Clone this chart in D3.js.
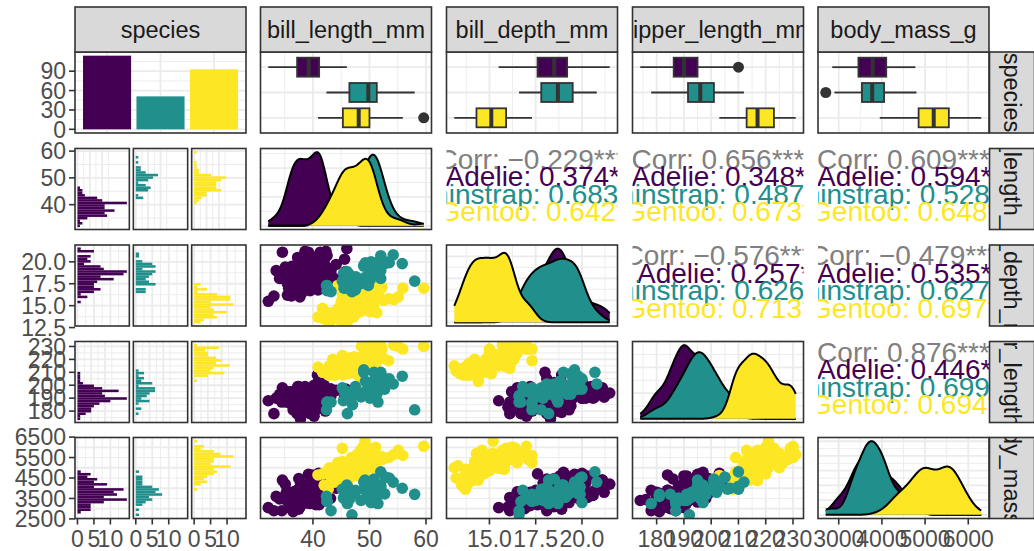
<!DOCTYPE html>
<html>
<head>
<meta charset="utf-8">
<script src="https://cdn.jsdelivr.net/npm/d3@7"></script>
<style>
  body { margin: 0; background: #fff; }
  svg text { font-family: "Liberation Sans", Arial, Helvetica, sans-serif; }
</style>
</head>
<body>
<div id="chart"></div>
<script>
// penguins, 75% training split: [bill_length_mm, bill_depth_mm, flipper_length_mm, body_mass_g]
var species = ["Adelie", "Chinstrap", "Gentoo"];
var speciesColors = ["#440154", "#21908C", "#FDE725"];
var varNames = ["species", "bill_length_mm", "bill_depth_mm", "flipper_length_mm", "body_mass_g"];

var adelie = [
  [39.1,18.7,181,3750],[39.5,17.4,186,3800],[36.7,19.3,193,3450],[39.3,20.6,190,3650],[39.2,19.6,195,4675],
  [34.1,18.1,193,3475],[42.0,20.2,190,4250],[37.8,17.3,180,3700],[41.1,17.6,182,3200],[38.6,21.2,191,3800],
  [34.6,21.1,198,4400],[38.7,19.0,195,3450],[42.5,20.7,197,4500],[46.0,21.5,194,4200],[37.8,18.3,174,3400],
  [37.7,18.7,180,3600],[35.9,19.2,189,3800],[38.8,17.2,180,3800],[35.3,18.9,187,3800],[40.5,17.9,187,3200],
  [37.0,16.9,185,3000],[39.5,16.7,178,3250],[37.2,18.1,178,3900],[40.9,18.9,184,3900],[36.4,17.0,195,3325],
  [39.2,21.1,196,4150],[42.2,18.5,180,3550],[37.6,19.3,181,3300],[39.8,19.1,184,4650],[40.8,18.4,195,3900],
  [36.0,18.5,186,3100],[44.1,19.7,196,4400],[39.6,18.8,190,4600],[41.1,19.0,182,3425],[37.5,18.9,179,2975],
  [42.3,21.2,191,4150],[39.6,17.7,186,3500],[35.9,16.6,190,3050],[42.0,19.5,200,4050],[34.5,18.1,187,2900],
  [41.4,18.6,191,3700],[40.6,18.8,193,3800],[36.5,16.6,181,2850],[37.6,19.1,194,3750],[41.3,21.1,195,4400],
  [37.6,17.0,185,3600],[41.1,18.2,192,4050],[41.6,18.0,192,3950],[35.5,16.2,195,3350],[41.1,19.1,188,4100],
  [41.8,19.4,198,4450],[33.5,19.0,190,3600],[39.7,18.4,190,3900],[45.8,18.9,197,4150],[35.5,17.5,190,3700],
  [42.8,18.5,195,4250],[37.2,19.4,184,3900],[36.2,16.1,187,3550],[42.1,19.1,195,4000],[42.9,17.6,196,4700],
  [36.7,18.8,187,3800],[35.1,19.4,193,4200],[41.3,20.3,194,3550],[36.3,19.5,190,3800],[36.9,18.6,189,3500],
  [38.9,18.8,190,3600],[40.9,16.8,191,3700],[41.1,18.1,205,4300],[39.6,18.1,186,4450],[36.2,17.3,187,3300],
  [40.8,18.9,208,4300],[40.3,18.5,196,4350],[33.1,16.1,178,2900],[43.2,18.5,192,4100],[41.0,20.0,203,4725],
  [37.7,16.0,183,3075],[37.8,20.0,190,4250],[39.7,18.9,184,3550],[38.6,17.2,199,3750],[38.2,20.0,190,3900],
  [43.2,19.0,197,4775],[38.1,16.5,198,3825],[45.6,20.3,191,4600],[42.2,19.5,197,4275],[39.6,20.7,191,3900],
  [42.7,18.3,196,4075],[37.3,20.5,199,3775],[35.7,17.0,189,3350],[41.1,18.6,189,3325],[37.7,19.8,198,3500],
  [40.2,17.0,176,3450],[41.4,18.5,202,3875],[40.6,19.0,199,4000],[38.8,17.6,191,3275],[41.5,18.3,195,4300],
  [44.1,18.0,210,4000],[38.5,17.9,190,3325],[43.1,19.2,197,3500],[37.5,18.5,199,4475],[38.1,17.6,187,3425],
  [41.1,17.5,190,3900],[40.2,20.1,200,3975],[37.0,16.5,185,3400],[39.7,17.9,193,4250],[40.6,17.2,187,3475],
  [32.1,15.5,188,3050],[40.7,17.0,190,3725],[39.0,18.7,185,3650],[36.2,17.2,187,3150],[36.6,18.4,184,3475],
  [36.0,17.8,195,3450],[37.8,18.1,193,3750],[36.0,17.1,187,3700],[41.5,18.5,201,4000]
];

var chinstrap = [
  [46.5,17.9,192,3500],[50.0,19.5,196,3900],[51.3,19.2,193,3650],[45.4,18.7,188,3525],[52.7,19.8,197,3725],
  [45.2,17.8,198,3950],[46.1,18.2,178,3250],[46.0,18.9,195,4150],[51.3,19.9,198,3700],[46.6,17.8,193,3800],
  [47.0,17.3,185,3700],[52.0,18.1,201,4050],[50.5,19.6,201,4050],[50.3,20.0,197,3300],[58.0,17.8,181,3700],
  [46.4,18.6,190,3450],[49.2,18.2,195,4400],[42.4,17.3,181,3600],[48.5,17.5,191,3400],[43.2,16.6,187,2900],
  [50.6,19.4,193,3800],[52.0,19.0,197,4150],[46.4,17.8,191,3700],[52.8,20.0,205,4550],[54.2,20.8,201,4300],
  [42.5,16.7,187,3350],[51.0,18.8,203,4100],[47.5,16.8,199,3900],[47.6,18.3,195,3850],[52.0,20.7,210,4800],
  [46.9,16.6,192,2700],[53.5,19.9,205,4500],[49.0,19.5,210,3950],[50.9,19.1,196,3550],[45.5,17.0,196,3500],
  [50.8,18.5,201,4450],[50.1,17.9,190,3400],[49.0,19.6,212,4300],[51.5,18.7,187,3250],[49.8,17.3,198,3675],
  [51.4,19.0,201,3950],[45.7,17.3,193,3600],[42.5,17.3,187,3350],[49.3,19.9,203,4050],[50.2,18.8,202,3800],
  [51.9,19.5,206,3950],[45.7,17.0,195,3650],[55.8,19.8,207,4000],[49.6,18.2,193,3775],[50.8,19.0,210,4100],
  [50.2,18.7,198,3775]
];

var gentoo = [
  [46.1,13.2,211,4500],[50.0,16.3,230,5700],[50.0,15.2,218,5700],[47.6,14.5,215,5400],[45.4,14.6,211,4800],
  [46.7,15.3,219,5200],[43.3,13.4,209,4400],[40.9,13.7,214,4650],[49.0,16.1,216,5550],[48.4,14.6,213,5850],
  [49.3,15.7,217,5850],[42.0,13.5,210,4150],[49.2,15.2,221,6300],[46.2,14.5,209,4800],[50.2,14.3,218,5700],
  [45.1,14.5,215,5000],[46.3,15.8,215,5050],[42.9,13.1,215,5000],[46.1,15.1,215,5100],[47.8,15.0,215,5650],
  [48.2,14.3,210,4600],[47.3,15.3,222,5250],[42.8,14.2,209,4700],[59.6,17.0,230,6050],[49.1,14.8,220,5150],
  [48.4,16.3,220,5400],[44.4,17.3,219,5250],[44.0,13.6,208,4350],[42.7,13.7,208,3950],[49.6,16.0,225,5700],
  [45.3,13.7,210,4300],[50.5,15.9,222,5550],[43.6,13.9,217,4900],[50.5,15.9,225,5400],[44.9,13.3,213,5100],
  [45.2,15.8,215,5300],[46.6,14.2,210,4850],[45.1,14.4,210,4400],[50.1,15.0,225,5000],[45.0,15.4,220,5050],
  [43.8,13.9,208,4300],[45.5,15.0,220,5000],[50.4,15.3,224,5550],[45.3,13.8,208,4200],[45.7,13.9,214,4400],
  [54.3,15.7,231,5650],[49.8,16.8,230,5700],[49.5,16.2,229,5800],[43.5,14.2,220,4700],[50.7,15.0,223,5550],
  [46.4,15.6,221,5000],[48.2,15.6,221,5100],[46.5,14.8,217,5200],[48.6,16.0,230,5800],[47.5,14.2,209,4600],
  [51.1,16.3,220,6000],[45.2,16.4,223,5950],[49.1,14.5,212,4625],[52.5,15.6,221,5450],[50.0,15.9,224,5350],
  [44.9,13.8,212,4750],[50.8,17.3,228,5600],[51.3,14.2,218,5300],[47.5,14.0,212,4875],[52.1,17.0,230,5550],
  [47.5,15.0,218,4950],[52.2,17.1,228,5400],[49.5,16.1,224,5650],[44.5,14.7,214,4850],[50.8,15.7,226,5200],
  [49.4,15.8,216,4925],[48.4,14.4,203,4625],[51.1,16.5,225,5250],[48.5,15.0,219,4850],[55.9,17.0,228,5600],
  [47.2,15.5,215,4975],[49.1,15.0,228,5500],[46.8,16.1,215,5500],[41.7,14.7,210,4700],[53.4,15.8,219,5500],
  [43.3,14.0,208,4575],[48.1,15.1,209,5500],[50.5,15.2,216,5000],[49.8,15.9,229,5950],[51.5,16.3,230,5500],
  [46.2,14.1,217,4375],[55.1,16.0,230,5850],[48.8,16.2,222,6000],[47.2,13.7,214,4925],[46.8,14.3,215,4850],
  [50.4,15.7,222,5750],[45.2,14.8,212,5200],[49.9,16.1,213,5400]
];

// correlation labels (upper panels): overall line, then one per species
var corrBillLengthDepth   = ["Corr: \u22120.229***", "Adelie: 0.374***", "Chinstrap: 0.683***", "Gentoo: 0.642***"];
var corrBillLengthFlipper = ["Corr: 0.656***", "Adelie: 0.348***", "Chinstrap: 0.487***", "Gentoo: 0.673***"];
var corrBillLengthMass    = ["Corr: 0.609***", "Adelie: 0.594***", "Chinstrap: 0.528***", "Gentoo: 0.648***"];
var corrBillDepthFlipper  = ["Corr: \u22120.576***", "Adelie: 0.257**", "Chinstrap: 0.626***", "Gentoo: 0.713***"];
var corrBillDepthMass     = ["Corr: \u22120.479***", "Adelie: 0.535***", "Chinstrap: 0.627***", "Gentoo: 0.697***"];
var corrFlipperMass       = ["Corr: 0.876***", "Adelie: 0.446***", "Chinstrap: 0.699***", "Gentoo: 0.694***"];

// tick labels
var leftTicks = [
  ["0", "30", "60", "90"],
  ["40", "50", "60"],
  ["12.5", "15.0", "17.5", "20.0"],
  ["180", "190", "200", "210", "220", "230"],
  ["2500", "3500", "4500", "5500", "6500"]
];
var bottomTicks = [
  ["0", "5", "10"],
  ["40", "50", "60"],
  ["15.0", "17.5", "20.0"],
  ["180", "190", "200", "210", "220", "230"],
  ["3000", "4000", "5000", "6000"]
];
// grid breaks per variable
var majorBreaks = [[40, 50, 60], [15, 17.5, 20], [180, 190, 200, 210, 220, 230], [3000, 4000, 5000, 6000]];
var minorBreaks = [[35, 45, 55], [13.75, 16.25, 18.75, 21.25], [175, 185, 195, 205, 215, 225, 235], [2500, 3500, 4500, 5500, 6500]];
var countMajor = [0, 5, 10], countMinor = [2.5, 7.5, 12.5];
var speciesCountMajor = [0, 30, 60, 90], speciesCountMinor = [15, 45, 75, 105];

// ---------- layout ----------
var svgWidth = 1034, svgHeight = 551;
var colLeft = [75, 260.5, 446.5, 632.5, 818];
var rowTop = [52, 148.5, 245, 341.5, 437.5];
var pw = 171, ph = 81;
var stripTop = 7, stripH = 45;
var rightStripX = 989.5;
var axisFont = 23, stripFont = 23.5, corrFont = 28;
var gridCol = "#EBEBEB", borderCol = "#333333";

var groups = [adelie, chinstrap, gentoo];
var drawOrder = [0, 2, 1];
var all = adelie.concat(gentoo, chinstrap);

var svg = d3.select("#chart").append("svg")
  .attr("width", svgWidth)
  .attr("height", svgHeight);
var defs = svg.append("defs");
var clipCount = 0;
function clip(x, y, w, h) {
  var id = "clip" + (clipCount++);
  defs.append("clipPath").attr("id", id)
    .append("rect").attr("x", x).attr("y", y).attr("width", w).attr("height", h);
  return "url(#" + id + ")";
}

function expand(ext) {
  var r = ext[1] - ext[0];
  return [ext[0] - 0.05 * r, ext[1] + 0.05 * r];
}
var varExtent = [0, 1, 2, 3].map(k => d3.extent(all, d => d[k]));
var varDomain = varExtent.map(expand);

function xScaleFor(c, k) {
  return d3.scaleLinear().domain(varDomain[k]).range([colLeft[c], colLeft[c] + pw]);
}
function yScaleFor(r, k) {
  return d3.scaleLinear().domain(varDomain[k]).range([rowTop[r] + ph, rowTop[r]]);
}

function panelBg(x, y, w, h) {
  svg.append("rect").attr("x", x).attr("y", y).attr("width", w).attr("height", h).attr("fill", "white");
}
function panelBorder(x, y, w, h) {
  svg.append("rect").attr("x", x).attr("y", y).attr("width", w).attr("height", h)
    .attr("fill", "none").attr("stroke", borderCol).attr("stroke-width", 1.6);
}
function grid(x, y, w, h, xs, xMaj, xMin, ys, yMaj, yMin) {
  var g = svg.append("g");
  function vlines(vals, sw) {
    vals.forEach(function (v) {
      var p = xs(v);
      if (p < x - 0.5 || p > x + w + 0.5) return;
      g.append("line").attr("x1", p).attr("x2", p).attr("y1", y).attr("y2", y + h)
        .attr("stroke", gridCol).attr("stroke-width", sw);
    });
  }
  function hlines(vals, sw) {
    vals.forEach(function (v) {
      var p = ys(v);
      if (p < y - 0.5 || p > y + h + 0.5) return;
      g.append("line").attr("x1", x).attr("x2", x + w).attr("y1", p).attr("y2", p)
        .attr("stroke", gridCol).attr("stroke-width", sw);
    });
  }
  if (xs) { vlines(xMin, 0.9); }
  if (ys) { hlines(yMin, 0.9); }
  if (xs) { vlines(xMaj, 1.8); }
  if (ys) { hlines(yMaj, 1.8); }
}

// ---------- [0,0] species counts ----------
(function () {
  var x0 = colLeft[0], y0 = rowTop[0];
  var counts = groups.map(g => g.length);
  var m = d3.max(counts);
  var xs = d3.scaleLinear().domain([0.4, 3.6]).range([x0, x0 + pw]);
  var ys = d3.scaleLinear().domain([-0.05 * m, 1.05 * m]).range([y0 + ph, y0]);
  panelBg(x0, y0, pw, ph);
  grid(x0, y0, pw, ph, xs, [1, 2, 3], [], ys, speciesCountMajor, speciesCountMinor);
  svg.append("g").attr("clip-path", clip(x0, y0, pw, ph))
    .selectAll("rect").data(counts).enter().append("rect")
    .attr("x", (d, i) => xs(i + 1 - 0.45))
    .attr("width", xs(1.45) - xs(0.55))
    .attr("y", d => ys(d))
    .attr("height", d => ys(0) - ys(d))
    .attr("fill", (d, i) => speciesColors[i]);
  panelBorder(x0, y0, pw, ph);
  leftAxis(0, ys);
})();

// ---------- row 0 boxplots ----------
function boxStats(vals) {
  var s = vals.slice().sort(d3.ascending);
  var q1 = d3.quantile(s, 0.25), med = d3.quantile(s, 0.5), q3 = d3.quantile(s, 0.75);
  var iqr = q3 - q1;
  var inside = s.filter(v => v >= q1 - 1.5 * iqr && v <= q3 + 1.5 * iqr);
  return {
    q1: q1, med: med, q3: q3,
    lo: d3.min(inside), hi: d3.max(inside),
    out: s.filter(v => v < q1 - 1.5 * iqr || v > q3 + 1.5 * iqr)
  };
}
for (var c = 1; c <= 4; c++) {
  (function (c) {
    var k = c - 1, x0 = colLeft[c], y0 = rowTop[0];
    var xs = xScaleFor(c, k);
    var ys = d3.scaleLinear().domain([0.4, 3.6]).range([y0, y0 + ph]);
    panelBg(x0, y0, pw, ph);
    grid(x0, y0, pw, ph, xs, majorBreaks[k], minorBreaks[k], ys, [1, 2, 3], []);
    var g = svg.append("g").attr("clip-path", clip(x0, y0, pw, ph));
    groups.forEach(function (grp, i) {
      var st = boxStats(grp.map(d => d[k]));
      var yc = ys(i + 1), bh = ys(1.375) - ys(1);
      g.append("line").attr("x1", xs(st.lo)).attr("x2", xs(st.q1)).attr("y1", yc).attr("y2", yc)
        .attr("stroke", borderCol).attr("stroke-width", 1.8);
      g.append("line").attr("x1", xs(st.q3)).attr("x2", xs(st.hi)).attr("y1", yc).attr("y2", yc)
        .attr("stroke", borderCol).attr("stroke-width", 1.8);
      g.append("rect").attr("x", xs(st.q1)).attr("width", xs(st.q3) - xs(st.q1))
        .attr("y", yc - bh).attr("height", 2 * bh)
        .attr("fill", speciesColors[i]).attr("stroke", borderCol).attr("stroke-width", 1.8);
      g.append("line").attr("x1", xs(st.med)).attr("x2", xs(st.med)).attr("y1", yc - bh).attr("y2", yc + bh)
        .attr("stroke", borderCol).attr("stroke-width", 4);
      g.selectAll(null).data(st.out).enter().append("circle")
        .attr("cx", d => xs(d)).attr("cy", yc).attr("r", 5.5).attr("fill", borderCol);
    });
    panelBorder(x0, y0, pw, ph);
  })(c);
}

// ---------- column 0 facetted histograms ----------
var subGap = 4, subW = (pw - 2 * subGap) / 3;
var histCountScales = [];
for (var r = 1; r <= 4; r++) {
  (function (r) {
    var k = r - 1, y0 = rowTop[r];
    var lo = varExtent[k][0], hi = varExtent[k][1], w = (hi - lo) / 29;
    var thresholds = d3.range(1, 30).map(i => lo - w / 2 + i * w);
    var binner = d3.bin().domain([lo - w / 2, hi + w / 2]).thresholds(thresholds);
    var binned = groups.map(g => binner(g.map(d => d[k])));
    var m = d3.max(binned, b => d3.max(b, d => d.length));
    var ys = yScaleFor(r, k);
    binned.forEach(function (bins, i) {
      var x0 = colLeft[0] + i * (subW + subGap);
      var xs = d3.scaleLinear().domain([-0.05 * m, 1.05 * m]).range([x0, x0 + subW]);
      if (r === 4) histCountScales.push(xs);
      panelBg(x0, y0, subW, ph);
      grid(x0, y0, subW, ph, xs, countMajor, countMinor, ys, majorBreaks[k], minorBreaks[k]);
      svg.append("g").attr("clip-path", clip(x0, y0, subW, ph))
        .selectAll("rect").data(bins.filter(b => b.length > 0)).enter().append("rect")
        .attr("x", xs(0))
        .attr("width", d => xs(d.length) - xs(0))
        .attr("y", d => ys(d.x1))
        .attr("height", d => ys(d.x0) - ys(d.x1))
        .attr("fill", speciesColors[i]);
      panelBorder(x0, y0, subW, ph);
    });
    leftAxis(r, ys);
  })(r);
}

// ---------- diagonal densities ----------
function nrd0(vals) {
  var s = vals.slice().sort(d3.ascending);
  var sd = d3.deviation(s);
  var iqr = d3.quantile(s, 0.75) - d3.quantile(s, 0.25);
  return 0.9 * Math.min(sd, iqr / 1.34) * Math.pow(s.length, -0.2);
}
function kde(vals, bw, xs) {
  return xs.map(x => [x, d3.mean(vals, v => Math.exp(-0.5 * Math.pow((x - v) / bw, 2))) / (bw * Math.sqrt(2 * Math.PI))]);
}
for (var r = 1; r <= 4; r++) {
  (function (r) {
    var k = r - 1, x0 = colLeft[r], y0 = rowTop[r];
    var xs = xScaleFor(r, k);
    var grid512 = d3.range(0, 512).map(i => varExtent[k][0] + i * (varExtent[k][1] - varExtent[k][0]) / 511);
    var dens = groups.map(g => { var v = g.map(d => d[k]); return kde(v, nrd0(v), grid512); });
    var m = d3.max(dens, d => d3.max(d, p => p[1]));
    var ys = d3.scaleLinear().domain([-0.05 * m, 1.05 * m]).range([y0 + ph, y0]);
    var yt = ys.ticks(4), step = yt[1] - yt[0];
    var yMin = yt.map(t => t + step / 2).concat([yt[0] - step / 2]);
    panelBg(x0, y0, pw, ph);
    grid(x0, y0, pw, ph, xs, majorBreaks[k], minorBreaks[k], ys, yt, yMin);
    var g = svg.append("g").attr("clip-path", clip(x0, y0, pw, ph));
    var area = d3.area().x(d => xs(d[0])).y0(ys(0)).y1(d => ys(d[1]));
    var line = d3.line().x(d => xs(d[0])).y(d => ys(d[1]));
    dens.forEach(function (d, i) {
      g.append("path").attr("d", area(d)).attr("fill", speciesColors[i]);
      g.append("path").attr("d", line(d)).attr("fill", "none").attr("stroke", "black").attr("stroke-width", 2);
    });
    panelBorder(x0, y0, pw, ph);
  })(r);
}

// ---------- lower scatter panels ----------
for (var r = 2; r <= 4; r++) {
  for (var c = 1; c < r; c++) {
    (function (r, c) {
      var kx = c - 1, ky = r - 1, x0 = colLeft[c], y0 = rowTop[r];
      var xs = xScaleFor(c, kx), ys = yScaleFor(r, ky);
      panelBg(x0, y0, pw, ph);
      grid(x0, y0, pw, ph, xs, majorBreaks[kx], minorBreaks[kx], ys, majorBreaks[ky], minorBreaks[ky]);
      var g = svg.append("g").attr("clip-path", clip(x0, y0, pw, ph));
      drawOrder.forEach(function (i) {
        g.selectAll(null).data(groups[i]).enter().append("circle")
          .attr("cx", d => xs(d[kx]))
          .attr("cy", d => ys(d[ky]))
          .attr("r", 5.8)
          .attr("fill", speciesColors[i]);
      });
      panelBorder(x0, y0, pw, ph);
    })(r, c);
  }
}

// ---------- upper correlation text ----------
var corrPanels = [
  { r: 1, c: 2, labels: corrBillLengthDepth },
  { r: 1, c: 3, labels: corrBillLengthFlipper },
  { r: 1, c: 4, labels: corrBillLengthMass },
  { r: 2, c: 3, labels: corrBillDepthFlipper },
  { r: 2, c: 4, labels: corrBillDepthMass },
  { r: 3, c: 4, labels: corrFlipperMass }
];
var corrColors = ["#808080"].concat(speciesColors);
var corrBaselines = [20, 37.5, 55, 72.5];
// group names are right-justified (space padded) before centring
var nameLen = d3.max(species, s => s.length);
var corrShift = [0].concat(species.map(s => (nameLen - s.length) * 0.278 / 2));
corrPanels.forEach(function (p) {
  var x0 = colLeft[p.c], y0 = rowTop[p.r];
  svg.append("g").attr("clip-path", clip(x0, y0, pw, ph))
    .selectAll("text").data(p.labels).enter().append("text")
    .attr("x", x0 + pw / 2)
    .attr("y", (d, i) => y0 + corrBaselines[i])
    .attr("dx", (d, i) => corrShift[i] + "em")
    .attr("text-anchor", "middle")
    .attr("font-size", corrFont)
    .attr("fill", (d, i) => corrColors[i])
    .text(d => d);
});

// ---------- strips ----------
varNames.forEach(function (name, c) {
  var x0 = colLeft[c];
  svg.append("rect").attr("x", x0).attr("y", stripTop).attr("width", pw).attr("height", stripH)
    .attr("fill", "#D9D9D9").attr("stroke", borderCol).attr("stroke-width", 1.6);
  svg.append("text").attr("clip-path", clip(x0, stripTop, pw, stripH))
    .attr("x", x0 + pw / 2).attr("y", stripTop + stripH / 2)
    .attr("dy", "0.35em").attr("text-anchor", "middle")
    .attr("font-size", stripFont).attr("fill", "#1A1A1A").text(name);
});
varNames.forEach(function (name, r) {
  var y0 = rowTop[r];
  svg.append("rect").attr("x", rightStripX).attr("y", y0).attr("width", stripH).attr("height", ph)
    .attr("fill", "#D9D9D9").attr("stroke", borderCol).attr("stroke-width", 1.6);
  svg.append("g").attr("clip-path", clip(rightStripX, y0, stripH, ph))
    .append("text")
    .attr("transform", "translate(" + (rightStripX + stripH / 2) + "," + (y0 + ph / 2) + ") rotate(90)")
    .attr("dy", "0.35em").attr("text-anchor", "middle")
    .attr("font-size", stripFont).attr("fill", "#1A1A1A").text(name);
});

// ---------- axes ----------
function leftAxis(r, ys) {
  var x0 = colLeft[0];
  var g = svg.append("g");
  leftTicks[r].forEach(function (lab) {
    var y = ys(+lab);
    g.append("line").attr("x1", x0 - 6).attr("x2", x0).attr("y1", y).attr("y2", y)
      .attr("stroke", borderCol).attr("stroke-width", 1.6);
    g.append("text").attr("x", x0 - 9).attr("y", y).attr("dy", "0.36em")
      .attr("text-anchor", "end").attr("font-size", axisFont).attr("fill", "#4D4D4D").text(lab);
  });
}
(function bottomAxes() {
  var yb = rowTop[4] + ph;
  var g = svg.append("g");
  function tick(x, lab) {
    g.append("line").attr("x1", x).attr("x2", x).attr("y1", yb).attr("y2", yb + 6)
      .attr("stroke", borderCol).attr("stroke-width", 1.6);
    g.append("text").attr("x", x).attr("y", yb + 28.5).attr("text-anchor", "middle")
      .attr("font-size", axisFont).attr("fill", "#4D4D4D").text(lab);
  }
  histCountScales.forEach(function (xs) {
    bottomTicks[0].forEach(lab => tick(xs(+lab), lab));
  });
  for (var c = 1; c <= 4; c++) {
    var xs = xScaleFor(c, c - 1);
    bottomTicks[c].forEach(lab => tick(xs(+lab), lab));
  }
})();
</script>
</body>
</html>
